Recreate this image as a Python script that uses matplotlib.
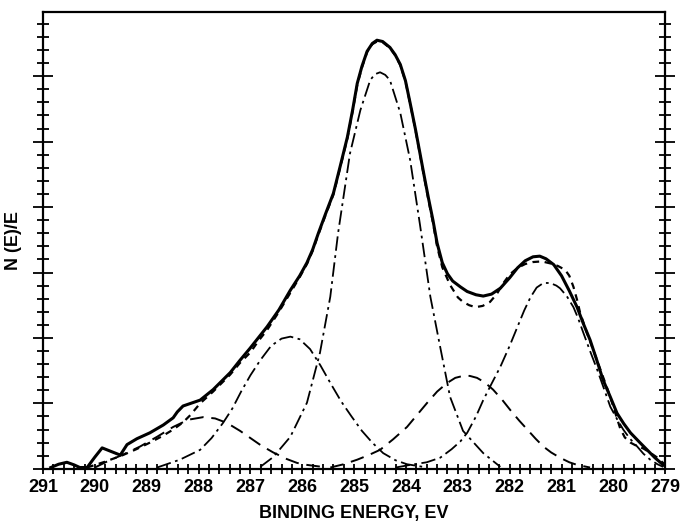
import numpy as np
import matplotlib
matplotlib.use("Agg")
from matplotlib import pyplot as plt
from matplotlib.ticker import MultipleLocator

plt.rcParams['font.family'] = ['Liberation Sans', 'DejaVu Sans']
plt.rcParams['font.weight'] = 'bold'

# measured spectrum (solid)
measured_x = [290.85, 290.7, 290.54, 290.4, 290.29, 290.15, 290.0, 289.86, 289.67, 289.51, 289.38,
              289.19, 288.94, 288.68, 288.49, 288.41, 288.30, 287.97, 287.72, 287.39, 287.20, 287.01,
              286.85, 286.68, 286.45, 286.23, 286.05, 285.91, 285.80, 285.69, 285.55, 285.40, 285.27,
              285.13, 285.03, 284.94, 284.85, 284.75, 284.65, 284.56, 284.45, 284.31, 284.21, 284.11,
              284.01, 283.92, 283.82, 283.73, 283.65, 283.57, 283.48, 283.40, 283.30, 283.20, 283.10,
              282.95, 282.82, 282.65, 282.51, 282.35, 282.18, 282.00, 281.85, 281.70, 281.55, 281.42,
              281.30, 281.15, 281.00, 280.85, 280.70, 280.58, 280.45, 280.32, 280.20, 280.06, 279.93,
              279.80, 279.67, 279.50, 279.35, 279.20, 279.04]
measured_y = [0.02, 0.07, 0.10, 0.06, 0.02, 0.02, 0.18, 0.32, 0.26, 0.21, 0.37,
              0.46, 0.55, 0.67, 0.78, 0.87, 0.96, 1.05, 1.21, 1.47, 1.66, 1.84,
              2.00, 2.17, 2.43, 2.73, 2.95, 3.15, 3.35, 3.60, 3.90, 4.21, 4.62,
              5.07, 5.48, 5.89, 6.15, 6.38, 6.50, 6.55, 6.53, 6.44, 6.33, 6.18,
              5.93, 5.59, 5.20, 4.82, 4.48, 4.15, 3.80, 3.45, 3.15, 2.98, 2.87,
              2.78, 2.71, 2.66, 2.64, 2.67, 2.76, 2.92, 3.07, 3.18, 3.24, 3.25,
              3.21, 3.12, 2.95, 2.72, 2.47, 2.22, 1.97, 1.66, 1.36, 1.10, 0.85,
              0.69, 0.55, 0.41, 0.29, 0.17, 0.06]

# sum of fitted components (short dashes)
sum_x = [290.15, 289.80, 289.46, 289.20, 288.94, 288.70, 288.49, 288.30, 288.16, 287.97, 287.72,
         287.39, 287.20, 287.00, 286.85, 286.68, 286.45, 286.23, 286.05, 285.91, 285.80, 285.69,
         285.55, 285.40, 285.27, 285.13, 285.03, 284.94, 284.85, 284.75, 284.65, 284.56, 284.45,
         284.31, 284.21, 284.11, 284.01, 283.92, 283.82, 283.73, 283.65, 283.57, 283.48, 283.40,
         283.30, 283.15, 283.00, 282.90, 282.78, 282.66, 282.52, 282.38, 282.25, 282.12, 282.00,
         281.85, 281.70, 281.55, 281.38, 281.22, 281.07, 280.93, 280.85, 280.77, 280.70, 280.64,
         280.52, 280.39, 280.22, 280.06, 279.95, 279.87, 279.78, 279.67, 279.55, 279.42, 279.28,
         279.15, 279.00]
sum_y = [0.02, 0.11, 0.21, 0.30, 0.40, 0.50, 0.60, 0.71, 0.82, 1.00, 1.18,
         1.44, 1.62, 1.78, 1.95, 2.12, 2.40, 2.69, 2.93, 3.13, 3.33, 3.58,
         3.88, 4.19, 4.60, 5.05, 5.46, 5.87, 6.13, 6.37, 6.49, 6.53, 6.52,
         6.43, 6.32, 6.17, 5.92, 5.58, 5.19, 4.80, 4.46, 4.12, 3.76, 3.40,
         3.08, 2.81, 2.62, 2.55, 2.50, 2.47, 2.49, 2.55, 2.67, 2.84, 2.97,
         3.07, 3.13, 3.16, 3.17, 3.14, 3.10, 3.04, 2.95, 2.78, 2.58, 2.38,
         2.10, 1.82, 1.45, 1.10, 0.82, 0.62, 0.48, 0.40, 0.35, 0.31, 0.24,
         0.17, 0.06]

# component at ~288 eV (long dashes)
c288_x = [290.0, 289.77, 289.45, 289.13, 288.80, 288.49, 288.20, 287.91, 287.68, 287.45, 287.20,
          287.00, 286.80, 286.56, 286.30, 286.10, 285.91, 285.52]
c288_y = [0.02, 0.11, 0.22, 0.34, 0.49, 0.64, 0.75, 0.79, 0.77, 0.70, 0.58,
          0.47, 0.36, 0.25, 0.15, 0.09, 0.06, 0.02]

# component at ~286.2 eV (dash-dot)
c286_x = [288.80, 288.36, 287.97, 287.75, 287.53, 287.35, 287.18, 287.00, 286.81, 286.60, 286.40,
          286.23, 286.05, 285.85, 285.65, 285.45, 285.25, 285.05, 284.85, 284.65, 284.44, 284.20,
          283.98, 283.67]
c286_y = [0.02, 0.14, 0.29, 0.47, 0.70, 0.92, 1.18, 1.43, 1.66, 1.88, 1.99,
          2.02, 1.98, 1.83, 1.58, 1.30, 1.03, 0.80, 0.58, 0.40, 0.24, 0.13,
          0.07, 0.03]

# main component at ~284.5 eV (dash-dot)
c284_x = [286.81, 286.56, 286.23, 285.91, 285.66, 285.46, 285.31, 285.08, 284.88, 284.69, 284.60,
          284.50, 284.40, 284.31, 284.11, 283.92, 283.73, 283.53, 283.34, 283.15, 282.90, 282.51,
          282.18]
c284_y = [0.03, 0.18, 0.49, 1.01, 1.77, 2.63, 3.60, 4.82, 5.48, 5.94, 6.03,
          6.06, 6.02, 5.94, 5.44, 4.72, 3.73, 2.63, 1.86, 1.10, 0.58, 0.24,
          0.03]

# component at ~283 eV (long dashes)
c283_x = [285.46, 285.20, 284.94, 284.72, 284.50, 284.25, 283.98, 283.78, 283.59, 283.40, 283.21,
          283.05, 282.90, 282.77, 282.63, 282.48, 282.32, 282.15, 281.99, 281.82, 281.66, 281.50,
          281.35, 281.20, 281.03, 280.85, 280.70, 280.45]
c283_y = [0.02, 0.07, 0.14, 0.21, 0.29, 0.45, 0.64, 0.83, 1.01, 1.18, 1.31,
          1.39, 1.42, 1.42, 1.39, 1.32, 1.21, 1.06, 0.90, 0.74, 0.60, 0.46,
          0.34, 0.25, 0.17, 0.10, 0.06, 0.02]

# component at ~281.2 eV (dash-dot)
c281_x = [284.20, 283.92, 283.60, 283.34, 283.12, 282.95, 282.82, 282.65, 282.51, 282.35, 282.18,
          282.00, 281.85, 281.72, 281.60, 281.48, 281.35, 281.22, 281.10, 281.03, 280.90, 280.77,
          280.68, 280.58, 280.45, 280.31, 280.18, 280.06, 279.93, 279.81, 279.68, 279.54, 279.42,
          279.29, 279.15, 279.04]
c281_y = [0.02, 0.06, 0.10, 0.17, 0.30, 0.42, 0.55, 0.80, 1.05, 1.30, 1.56,
          1.88, 2.17, 2.42, 2.62, 2.77, 2.84, 2.84, 2.80, 2.76, 2.64, 2.47,
          2.30, 2.08, 1.80, 1.51, 1.22, 0.95, 0.76, 0.60, 0.46, 0.34, 0.23,
          0.14, 0.07, 0.03]

fig = plt.figure(figsize=(6.83, 5.25), dpi=100)
ax = fig.add_axes([0.063, 0.107, 0.911, 0.870])

dashdot = (8, 2.5, 1.5, 2.5)
longdash = (7, 4)

ax.plot(c288_x, c288_y, color='black', lw=1.4, dashes=longdash)
ax.plot(c283_x, c283_y, color='black', lw=1.4, dashes=longdash)
ax.plot(c286_x, c286_y, color='black', lw=1.3, dashes=dashdot)
ax.plot(c284_x, c284_y, color='black', lw=1.3, dashes=dashdot)
ax.plot(c281_x, c281_y, color='black', lw=1.3, dashes=dashdot)
ax.plot(sum_x, sum_y, color='black', lw=1.6, dashes=(3, 2.5))
ax.plot(measured_x, measured_y, color='black', lw=2.2)

ax.set_xlim(291, 279)
ax.set_ylim(0, 6.98)

ax.xaxis.set_major_locator(MultipleLocator(1))
ax.xaxis.set_minor_locator(MultipleLocator(0.2))
ax.yaxis.set_major_locator(MultipleLocator(1))
ax.yaxis.set_minor_locator(MultipleLocator(0.2))

ax.tick_params(axis='x', which='both', direction='inout', length=7, width=1.3,
               top=False, labelsize=13, pad=4)
ax.tick_params(axis='y', which='minor', direction='inout', length=8, width=1.3,
               left=True, right=True)
ax.tick_params(axis='y', which='major', direction='inout', length=14, width=1.3,
               left=True, right=True, labelleft=False)

for s in ax.spines.values():
    s.set_linewidth(1.6)

ax.set_xlabel("BINDING ENERGY, EV", fontsize=13, fontweight='bold', labelpad=6)
ax.set_ylabel("N (E)/E", fontsize=13, fontweight='bold', labelpad=8)

fig.savefig("out.png", dpi=100)
